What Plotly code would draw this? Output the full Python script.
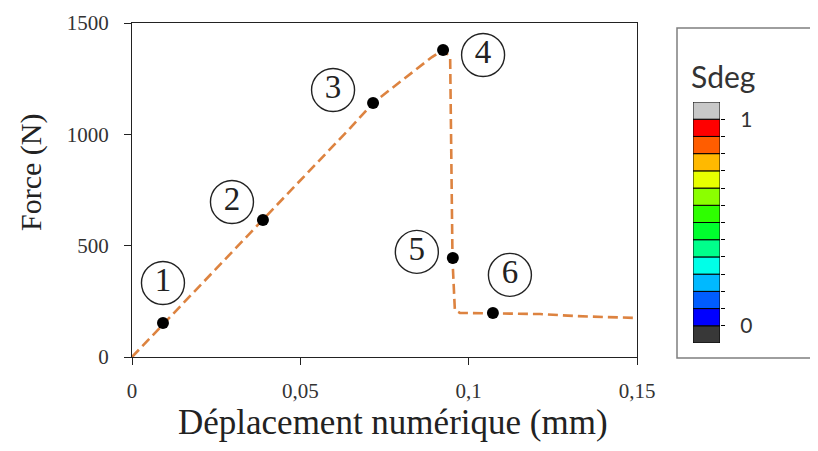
import plotly.graph_objects as go

# ---- data ----
curve_x = [0, 0.0389, 0.0648, 0.0716, 0.0811, 0.0891, 0.0924, 0.0945, 0.0952, 0.0959, 0.0974, 0.1212, 0.1316, 0.15]
curve_y = [0, 615, 1028, 1141, 1253, 1347, 1379, 1347, 436, 211, 198, 193, 184, 175]

point_x = [0.0092, 0.0389, 0.0716, 0.0924, 0.0953, 0.1072]
point_y = [153, 615, 1141, 1379, 445, 198]
point_labels = ["1", "2", "3", "4", "5", "6"]

x_tickvals = [0, 0.05, 0.1, 0.15]
y_tickvals = [0, 500, 1000, 1500]

sdeg_colors = ["#383838", "#0000FF", "#005DFF", "#00B9FF", "#00FFE8", "#00FF8B", "#00FF2E",
               "#2EFF00", "#8BFF00", "#E8FF00", "#FFB900", "#FF5D00", "#FF0000", "#C8C8C8"]
sdeg_base = [(k - 1) / 12 for k in range(len(sdeg_colors))]
sdeg_ticks = [k / 12 for k in range(13)]
sdeg_ticktext = ["0"] + [""] * 11 + ["1"]

# ---- styling / layout constants ----
OFF = 8                      # page body margin
W, H = 818 - OFF, 451 - OFF
ML, MR, MT, MB = 132 - OFF, 10, 23 - OFF, 94
PW = W - ML - MR
PH = H - MT - MB
main_w_px = 505
x_per_px = 0.15 / main_w_px
y_per_px = 1500 / PH
label_offsets_px = [(0, -40), (-31, -18), (-40, -13), (40, 5), (-36, -6), (17, -38)]

label_x = [px + dx * x_per_px for px, (dx, dy) in zip(point_x, label_offsets_px)]
label_y = [py - dy * y_per_px for py, (dx, dy) in zip(point_y, label_offsets_px)]

def paper_x(px):
    return (px - OFF - ML) / PW

def paper_y(py):
    return (H - MB - (py - OFF)) / PH

serif = "Liberation Serif"
sans = "Lato"

fig = go.Figure()

fig.add_trace(go.Scatter(
    x=curve_x, y=curve_y, mode="lines",
    line=dict(color="#DD8340", width=2.6, dash="10px,5px"),
    hoverinfo="skip", showlegend=False))

fig.add_trace(go.Scatter(
    x=point_x, y=point_y, mode="markers",
    marker=dict(color="black", size=12),
    showlegend=False, cliponaxis=False))

fig.add_trace(go.Scatter(
    x=label_x, y=label_y, mode="markers+text",
    text=point_labels, textposition="middle center",
    textfont=dict(family=serif, size=33, color="#222"),
    marker=dict(symbol="circle-open", size=43, color="#222", line=dict(width=1.4)),
    showlegend=False, cliponaxis=False))

# colour scale legend as stacked bars
fig.add_trace(go.Bar(
    x=[0] * len(sdeg_colors), y=[1 / 12] * len(sdeg_colors), base=sdeg_base,
    width=[1] * len(sdeg_colors),
    marker=dict(color=sdeg_colors, line=dict(color="black", width=1)),
    xaxis="x2", yaxis="y2", showlegend=False, hoverinfo="skip"))

fig.update_layout(
    width=W, height=H,
    margin=dict(l=ML, r=MR, t=MT, b=MB, autoexpand=False),
    paper_bgcolor="white", plot_bgcolor="white",
    separators=", ",
    barmode="overlay",
    font=dict(family=serif, color="#333"),
    xaxis=dict(domain=[0, main_w_px / PW], range=[0, 0.15], tickvals=x_tickvals,
               ticks="outside", ticklen=7, tickwidth=1.3, tickcolor="#222",
               showline=True, linecolor="#222", linewidth=1.3, mirror=True,
               showgrid=False, zeroline=False, automargin=False,
               tickfont=dict(family=serif, size=21, color="#333"), ticklabelstandoff=8),
    yaxis=dict(domain=[0, 1], range=[0, 1500], tickvals=y_tickvals,
               ticks="outside", ticklen=7, tickwidth=1.3, tickcolor="#222",
               showline=True, linecolor="#222", linewidth=1.3, mirror=True,
               showgrid=False, zeroline=False, automargin=False,
               tickfont=dict(family=serif, size=21, color="#333"), ticklabelstandoff=11),
    xaxis2=dict(domain=[paper_x(693), paper_x(720)], range=[-0.5, 0.5], anchor="y2",
                visible=False, fixedrange=True, automargin=False),
    yaxis2=dict(domain=[paper_y(343), paper_y(102)], range=[-1 / 12, 13 / 12], anchor="x2",
                side="right", tickvals=sdeg_ticks, ticktext=sdeg_ticktext,
                ticks="outside", ticklen=4, tickcolor="black", tickwidth=1.2,
                showgrid=False, zeroline=False, showline=False, automargin=False,
                tickfont=dict(family=sans, size=21, color="#333"), ticklabelstandoff=11),
    shapes=[dict(type="rect", xref="paper", yref="paper",
                 x0=paper_x(677), x1=paper_x(840), y0=paper_y(358), y1=paper_y(28),
                 line=dict(color="#7f7f7f", width=1.5), fillcolor="rgba(0,0,0,0)")],
    annotations=[
        dict(text="Déplacement numérique (mm)", xref="paper", yref="paper",
             x=paper_x(393), y=paper_y(422), xanchor="center", yanchor="middle",
             showarrow=False, font=dict(family=serif, size=35, color="#222")),
        dict(text="Force (N)", xref="paper", yref="paper", textangle=-90,
             x=paper_x(31), y=paper_y(172), xanchor="center", yanchor="middle",
             showarrow=False, font=dict(family=serif, size=30, color="#222")),
        dict(text="Sdeg", xref="paper", yref="paper",
             x=paper_x(689), y=paper_y(76), xanchor="left", yanchor="middle",
             showarrow=False, font=dict(family=sans, size=30, color="#333")),
    ],
)

fig.write_html("out.html")
